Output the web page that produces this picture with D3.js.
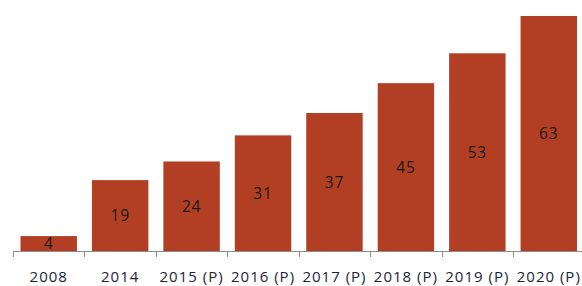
<!DOCTYPE html>
<html><head><meta charset="utf-8">
<script src="https://cdn.jsdelivr.net/npm/d3@7"></script>
<style>body{margin:0;background:#fff}svg{display:block}</style>
</head><body><svg id="c" width="582" height="286"></svg>
<script>
const categories = ["2008","2014","2015 (P)","2016 (P)","2017 (P)","2018 (P)","2019 (P)","2020 (P)"];
const values = [4,19,24,31,37,45,53,63];

const svg = d3.select("#c");
const x = d3.scaleBand().domain(categories).range([13, 584.5]).paddingInner(0.21).paddingOuter(0.105);
const y = d3.scaleLinear().domain([0, 63]).range([251, 16]);

svg.selectAll("rect.bar").data(values).enter().append("rect")
  .attr("class","bar")
  .attr("x",(d,i)=>x(categories[i]))
  .attr("width",x.bandwidth())
  .attr("y",d=>y(d))
  .attr("height",d=>y(0)-y(d))
  .attr("fill","#B23F24");

svg.selectAll("text.val").data(values).enter().append("text")
  .attr("class","val")
  .attr("x",(d,i)=>x(categories[i])+x.bandwidth()/2)
  .attr("y",d=>(y(d)+y(0))/2)
  .attr("dy","0.36em")
  .attr("text-anchor","middle")
  .attr("font-family","'Open Sans', sans-serif")
  .attr("font-size",15.5)
  .attr("letter-spacing","0.8px")
  .attr("fill","#1a1a1a")
  .text(d=>d);

// axis
const x0 = 13;
const axisG = svg.append("g");
axisG.append("line").attr("x1",x0).attr("x2",582).attr("y1",251.5).attr("y2",251.5)
  .attr("stroke","#8c8c8c").attr("stroke-width",1);
const tickPos = d3.range(categories.length+1).map(i=>x0 + i*((584.5-13)/categories.length));
axisG.selectAll("line.tk").data(tickPos).enter().append("line")
  .attr("x1",d=>Math.round(d)+0.5).attr("x2",d=>Math.round(d)+0.5)
  .attr("y1",251).attr("y2",257).attr("stroke","#8c8c8c");
axisG.selectAll("text.cat").data(categories).enter().append("text")
  .attr("x",d=>x(d)+x.bandwidth()/2)
  .attr("y",277)
  .attr("dy","0.36em")
  .attr("text-anchor","middle")
  .attr("font-family","'Open Sans', sans-serif")
  .attr("font-size",15)
  .attr("letter-spacing","1px")
  .attr("fill","#1c2335")
  .text(d=>d);
</script></body></html>
